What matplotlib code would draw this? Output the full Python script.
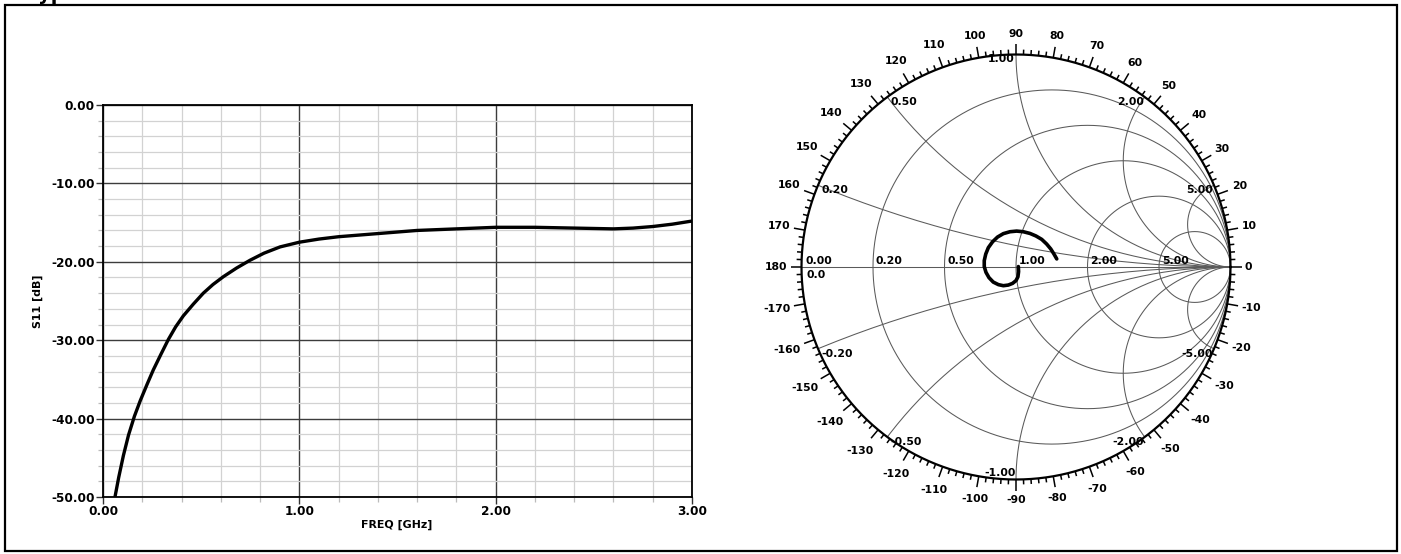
import matplotlib
matplotlib.use('Agg')
import matplotlib.pyplot as plt
import numpy as np
from matplotlib.patches import Circle, Rectangle

plt.rcParams['font.family'] = ['DejaVu Sans']
plt.rcParams['font.weight'] = 'bold'

W, H = 1401, 554

# S11 magnitude vs frequency
freq_ghz = [0.061, 0.08, 0.104, 0.13, 0.16, 0.19, 0.225, 0.256, 0.295, 0.333,
            0.37, 0.409, 0.46, 0.511, 0.56, 0.613, 0.68, 0.749, 0.82, 0.902,
            1.00, 1.10, 1.20, 1.40, 1.60, 1.80, 2.00, 2.20, 2.40, 2.60,
            2.70, 2.80, 2.90, 3.00]
s11_db = [-50.0, -47.5, -44.7, -42.1, -39.7, -37.7, -35.6, -33.8, -31.8, -29.9,
          -28.3, -26.9, -25.4, -24.0, -22.9, -21.9, -20.8, -19.8, -18.9, -18.1,
          -17.5, -17.1, -16.8, -16.4, -16.0, -15.8, -15.6, -15.6, -15.7, -15.8,
          -15.7, -15.5, -15.2, -14.8]
freq_ticks = [0.0, 1.0, 2.0, 3.0]
s11_ticks = [0.0, -10.0, -20.0, -30.0, -40.0, -50.0]

# reflection coefficient trace on the Smith chart
gamma_re = [0.011, 0.012, 0.009, 0.000, -0.016, -0.036, -0.059, -0.082, -0.106,
            -0.126, -0.140, -0.148, -0.148, -0.141, -0.129, -0.109, -0.086, -0.059,
            -0.028, 0.003, 0.034, 0.065, 0.093, 0.120, 0.143, 0.162, 0.177, 0.190]
gamma_im = [0.002, -0.022, -0.046, -0.064, -0.077, -0.085, -0.088, -0.083, -0.071,
            -0.050, -0.025, 0.002, 0.030, 0.061, 0.091, 0.119, 0.141, 0.157,
            0.166, 0.169, 0.166, 0.158, 0.146, 0.130, 0.108, 0.085, 0.061, 0.038]

r_values = [0.2, 0.5, 1.0, 2.0, 5.0]
x_values = [0.2, 0.5, 1.0, 2.0, 5.0]
angle_labels = list(range(-170, 190, 10))


def px(x0, y0, x1, y1):
    return [x0 / W, 1 - y1 / H, (x1 - x0) / W, (y1 - y0) / H]


fig = plt.figure(figsize=(W / 100, H / 100), dpi=100)

# outer frame and the title that sits mostly above the picture
fig.add_artist(Rectangle((5 / W, 1 - 551 / H), 1392 / W, 546 / H, transform=fig.transFigure,
                         fill=False, lw=1.6, ec='black'))
fig.text(27 / W, 1 + 0.5 / H, 'Typical Performance', fontsize=14, va='baseline')

# ---- left: S11 vs frequency
ax = fig.add_axes(px(103, 105, 692, 497))
ax.plot(freq_ghz, s11_db, color='black', lw=2.4, solid_capstyle='butt',
        solid_joinstyle='round')
ax.set_xlim(0, 3)
ax.set_ylim(-50, 0)
ax.set_xticks(freq_ticks)
ax.set_xticklabels(['%.2f' % v for v in freq_ticks])
ax.set_yticks(s11_ticks)
ax.set_yticklabels(['%.2f' % v for v in s11_ticks])
ax.set_xticks(np.arange(0, 3.01, 0.2), minor=True)
ax.set_yticks(np.arange(-50, 0.1, 2), minor=True)
ax.grid(which='major', color='#3c3c3c', lw=1.0)
ax.grid(which='minor', color='#d2d2d2', lw=0.9)
ax.set_axisbelow(True)
ax.tick_params(which='major', length=5, width=1.0, color='#333333', labelsize=8.7, pad=1)
ax.tick_params(which='minor', length=3.5, width=0.9, color='#bbbbbb')
for s in ax.spines.values():
    s.set_linewidth(1.3)
    s.set_color('black')
fig.text(38 / W, 1 - 301 / H, 'S11 [dB]', rotation=90, fontsize=7.9, ha='center', va='center')
fig.text(397 / W, 1 - 525 / H, 'FREQ [GHz]', fontsize=7.9, ha='center', va='center')

# ---- right: Smith chart
cx, cy = 1016, 267
rx, ry = 214.5, 212.5
ax2 = fig.add_axes(px(cx - 280, cy - 257, cx + 280, cy + 257))
ax2.set_xlim(-280 / rx, 280 / rx)
ax2.set_ylim(-257 / ry, 257 / ry)
ax2.axis('off')

t = np.linspace(0, 2 * np.pi, 721)
clip = Circle((0, 0), 1, transform=ax2.transData)
grid_kw = dict(color='#5a5a5a', lw=0.75)

for r in r_values:
    c, rad = r / (1 + r), 1 / (1 + r)
    ax2.plot(c + rad * np.cos(t), rad * np.sin(t), **grid_kw)
for xv in x_values:
    for sgn in (1, -1):
        line, = ax2.plot(1 + np.cos(t) / xv, sgn / xv + np.sin(t) / xv, **grid_kw)
        line.set_clip_path(clip)
ax2.plot([-1, 1], [0, 0], **grid_kw)
ax2.plot(np.cos(t), np.sin(t), color='black', lw=1.6)

# angle ticks every 2 deg, long ones every 10
for deg in range(-178, 181, 2):
    a = np.radians(deg)
    L = 11 if deg % 10 == 0 else 5
    ax2.plot([np.cos(a), np.cos(a) * (rx + L) / rx], [np.sin(a), np.sin(a) * (ry + L) / ry],
             color='black', lw=1.1, solid_capstyle='butt')

# angle labels
for deg in angle_labels:
    a = np.radians(deg)
    txt = str(deg)
    w = 7.4 * len(txt.replace('-', '')) + 4.5 * txt.count('-')
    d = 14 + abs(np.cos(a)) * w / 2 + abs(np.sin(a)) * 6.5
    ax2.text(np.cos(a) * (rx + d) / rx, np.sin(a) * (ry + d) / ry, txt,
             fontsize=7.8, ha='center', va='center')

# resistance labels on the real axis
for r in r_values:
    g = (r - 1) / (r + 1)
    ax2.annotate('%.2f' % r, xy=(g, 0), xytext=(3, 3), textcoords='offset pixels',
                 fontsize=7.8, ha='left', va='baseline')
ax2.annotate('0.00', xy=(-1, 0), xytext=(4, 3), textcoords='offset pixels',
             fontsize=7.8, ha='left', va='baseline')
ax2.annotate('0.0', xy=(-1, 0), xytext=(5, -3), textcoords='offset pixels',
             fontsize=7.8, ha='left', va='top')

# reactance labels at the rim
for xv in x_values:
    for sgn in (1, -1):
        gp = (1j * sgn * xv - 1) / (1j * sgn * xv + 1)
        left = gp.real < -0.01
        if abs(xv - 1.0) < 1e-9:
            ha = 'right'
            va = 'top' if sgn > 0 else 'bottom'
            off = (-1, 1) if sgn > 0 else (0, 2)
        else:
            ha = 'left' if left else 'right'
            va = 'top'
            off = (3, 0) if left else (-1, 0)
        ax2.annotate('%.2f' % (sgn * xv), xy=(gp.real, gp.imag), xytext=off,
                     textcoords='offset pixels', fontsize=7.8, ha=ha, va=va)

ax2.plot(gamma_re, gamma_im, color='black', lw=2.6, solid_capstyle='round',
         solid_joinstyle='round')

fig.savefig('out.png', dpi=100)
